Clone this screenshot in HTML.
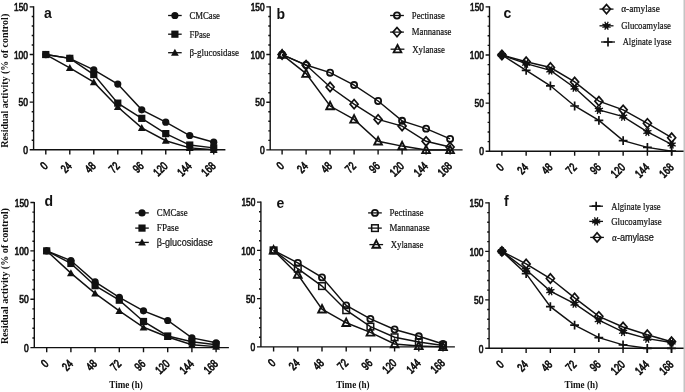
<!DOCTYPE html>
<html><head><meta charset="utf-8"><style>
html,body{margin:0;padding:0;background:#fff;}
body{width:685px;height:392px;overflow:hidden;font-family:"Liberation Sans", sans-serif;}
svg{display:block;will-change:transform;}
</style></head><body>
<svg width="685" height="392" viewBox="0 0 685 392">
<rect width="685" height="392" fill="#fff"/>
<path d="M33.60,6.30 V149.80 M29.70,149.80 H225.40" stroke="#111" stroke-width="1.4" fill="none"/>
<path d="M31.70,140.27 H33.60 M31.70,130.75 H33.60 M31.70,121.22 H33.60 M31.70,111.69 H33.60 M29.70,102.17 H33.60 M31.70,92.64 H33.60 M31.70,83.11 H33.60 M31.70,73.59 H33.60 M31.70,64.06 H33.60 M29.70,54.53 H33.60 M31.70,45.01 H33.60 M31.70,35.48 H33.60 M31.70,25.95 H33.60 M31.70,16.43 H33.60 M29.70,6.90 H33.60 M45.80,149.80 V154.40 M69.79,149.80 V154.40 M93.78,149.80 V154.40 M117.77,149.80 V154.40 M141.76,149.80 V154.40 M165.75,149.80 V154.40 M189.74,149.80 V154.40 M213.73,149.80 V154.40 " stroke="#111" stroke-width="1.4" fill="none"/>
<text x="28.00" y="11.10" text-anchor="end" font-family='"Liberation Sans", sans-serif' font-size="11" textLength="13.9" lengthAdjust="spacingAndGlyphs" fill="#111" stroke="#111" stroke-width="0.7">150</text>
<text x="28.00" y="58.73" text-anchor="end" font-family='"Liberation Sans", sans-serif' font-size="11" textLength="14.1" lengthAdjust="spacingAndGlyphs" fill="#111" stroke="#111" stroke-width="0.7">100</text>
<text x="28.00" y="106.37" text-anchor="end" font-family='"Liberation Sans", sans-serif' font-size="11" textLength="9.4" lengthAdjust="spacingAndGlyphs" fill="#111" stroke="#111" stroke-width="0.7">50</text>
<text x="28.00" y="154.00" text-anchor="end" font-family='"Liberation Sans", sans-serif' font-size="11" textLength="4.7" lengthAdjust="spacingAndGlyphs" fill="#111" stroke="#111" stroke-width="0.7">0</text>
<text x="48.50" y="166.70" text-anchor="end" transform="rotate(-45 48.50 166.70)" font-family='"Liberation Sans", sans-serif' font-size="11.6" textLength="5.0" lengthAdjust="spacingAndGlyphs" fill="#111" stroke="#111" stroke-width="0.75">0</text>
<text x="72.49" y="166.70" text-anchor="end" transform="rotate(-45 72.49 166.70)" font-family='"Liberation Sans", sans-serif' font-size="11.6" textLength="9.8" lengthAdjust="spacingAndGlyphs" fill="#111" stroke="#111" stroke-width="0.75">24</text>
<text x="96.48" y="166.70" text-anchor="end" transform="rotate(-45 96.48 166.70)" font-family='"Liberation Sans", sans-serif' font-size="11.6" textLength="9.8" lengthAdjust="spacingAndGlyphs" fill="#111" stroke="#111" stroke-width="0.75">48</text>
<text x="120.47" y="166.70" text-anchor="end" transform="rotate(-45 120.47 166.70)" font-family='"Liberation Sans", sans-serif' font-size="11.6" textLength="9.8" lengthAdjust="spacingAndGlyphs" fill="#111" stroke="#111" stroke-width="0.75">72</text>
<text x="144.46" y="166.70" text-anchor="end" transform="rotate(-45 144.46 166.70)" font-family='"Liberation Sans", sans-serif' font-size="11.6" textLength="9.8" lengthAdjust="spacingAndGlyphs" fill="#111" stroke="#111" stroke-width="0.75">96</text>
<text x="168.45" y="166.70" text-anchor="end" transform="rotate(-45 168.45 166.70)" font-family='"Liberation Sans", sans-serif' font-size="11.6" textLength="14.6" lengthAdjust="spacingAndGlyphs" fill="#111" stroke="#111" stroke-width="0.75">120</text>
<text x="192.44" y="166.70" text-anchor="end" transform="rotate(-45 192.44 166.70)" font-family='"Liberation Sans", sans-serif' font-size="11.6" textLength="14.6" lengthAdjust="spacingAndGlyphs" fill="#111" stroke="#111" stroke-width="0.75">144</text>
<text x="216.43" y="166.70" text-anchor="end" transform="rotate(-45 216.43 166.70)" font-family='"Liberation Sans", sans-serif' font-size="11.6" textLength="14.6" lengthAdjust="spacingAndGlyphs" fill="#111" stroke="#111" stroke-width="0.75">168</text>
<text x="44.00" y="17.60" font-family='"Liberation Sans", sans-serif' font-weight="bold" font-size="14" fill="#111">a</text>
<polyline points="45.80,54.53 69.79,58.34 93.78,69.78 117.77,84.07 141.76,109.79 165.75,122.17 189.74,135.51 213.73,142.18" fill="none" stroke="#111" stroke-width="1.45"/>
<polyline points="45.80,54.53 69.79,58.34 93.78,74.54 117.77,103.12 141.76,118.36 165.75,133.60 189.74,145.04 213.73,147.89" fill="none" stroke="#111" stroke-width="1.45"/>
<polyline points="45.80,54.53 69.79,67.87 93.78,82.16 117.77,106.93 141.76,127.89 165.75,140.75 189.74,147.89 213.73,149.80" fill="none" stroke="#111" stroke-width="1.45"/>
<circle cx="45.80" cy="54.53" r="3.60" fill="#111"/>
<circle cx="69.79" cy="58.34" r="3.60" fill="#111"/>
<circle cx="93.78" cy="69.78" r="3.60" fill="#111"/>
<circle cx="117.77" cy="84.07" r="3.60" fill="#111"/>
<circle cx="141.76" cy="109.79" r="3.60" fill="#111"/>
<circle cx="165.75" cy="122.17" r="3.60" fill="#111"/>
<circle cx="189.74" cy="135.51" r="3.60" fill="#111"/>
<circle cx="213.73" cy="142.18" r="3.60" fill="#111"/>
<rect x="42.20" y="50.93" width="7.20" height="7.20" fill="#111"/>
<rect x="66.19" y="54.74" width="7.20" height="7.20" fill="#111"/>
<rect x="90.18" y="70.94" width="7.20" height="7.20" fill="#111"/>
<rect x="114.17" y="99.52" width="7.20" height="7.20" fill="#111"/>
<rect x="138.16" y="114.76" width="7.20" height="7.20" fill="#111"/>
<rect x="162.15" y="130.00" width="7.20" height="7.20" fill="#111"/>
<rect x="186.14" y="141.44" width="7.20" height="7.20" fill="#111"/>
<rect x="210.13" y="144.29" width="7.20" height="7.20" fill="#111"/>
<path d="M45.80,50.63 L49.70,57.65 L41.90,57.65Z" fill="#111"/>
<path d="M69.79,63.97 L73.69,70.99 L65.89,70.99Z" fill="#111"/>
<path d="M93.78,78.26 L97.68,85.28 L89.88,85.28Z" fill="#111"/>
<path d="M117.77,103.03 L121.67,110.05 L113.87,110.05Z" fill="#111"/>
<path d="M141.76,123.99 L145.66,131.01 L137.86,131.01Z" fill="#111"/>
<path d="M165.75,136.85 L169.65,143.87 L161.85,143.87Z" fill="#111"/>
<path d="M189.74,143.99 L193.64,151.01 L185.84,151.01Z" fill="#111"/>
<path d="M213.73,145.90 L217.63,152.92 L209.83,152.92Z" fill="#111"/>
<path d="M168.10,15.50 H181.70" stroke="#111" stroke-width="1.3"/>
<circle cx="174.90" cy="15.50" r="3.60" fill="#111"/>
<text x="189.40" y="18.80" font-family='"Liberation Serif", serif' font-size="10" textLength="30.6" lengthAdjust="spacingAndGlyphs" fill="#111" stroke="#111" stroke-width="0.2">CMCase</text>
<path d="M168.10,34.20 H181.70" stroke="#111" stroke-width="1.3"/>
<rect x="171.30" y="30.60" width="7.20" height="7.20" fill="#111"/>
<text x="189.40" y="37.50" font-family='"Liberation Serif", serif' font-size="10" textLength="20.7" lengthAdjust="spacingAndGlyphs" fill="#111" stroke="#111" stroke-width="0.2">FPase</text>
<path d="M168.10,52.70 H181.70" stroke="#111" stroke-width="1.3"/>
<path d="M174.90,48.80 L178.80,55.82 L171.00,55.82Z" fill="#111"/>
<text x="189.40" y="56.00" font-family='"Liberation Serif", serif' font-size="10" textLength="49.5" lengthAdjust="spacingAndGlyphs" fill="#111" stroke="#111" stroke-width="0.2">β-glucosidase</text>
<text x="8.3" y="80.80" transform="rotate(-90 8.3 80.80)" text-anchor="middle" font-family='"Liberation Serif", serif' font-weight="bold" font-size="10" textLength="134" lengthAdjust="spacingAndGlyphs" fill="#111">Residual activity (% of control)</text>
<path d="M270.20,6.30 V149.90 M266.30,149.90 H462.60" stroke="#111" stroke-width="1.4" fill="none"/>
<path d="M268.30,140.37 H270.20 M268.30,130.83 H270.20 M268.30,121.30 H270.20 M268.30,111.77 H270.20 M266.30,102.23 H270.20 M268.30,92.70 H270.20 M268.30,83.17 H270.20 M268.30,73.63 H270.20 M268.30,64.10 H270.20 M266.30,54.57 H270.20 M268.30,45.03 H270.20 M268.30,35.50 H270.20 M268.30,25.97 H270.20 M268.30,16.43 H270.20 M266.30,6.90 H270.20 M282.10,149.90 V154.50 M306.10,149.90 V154.50 M330.10,149.90 V154.50 M354.10,149.90 V154.50 M378.10,149.90 V154.50 M402.10,149.90 V154.50 M426.10,149.90 V154.50 M450.10,149.90 V154.50 " stroke="#111" stroke-width="1.4" fill="none"/>
<text x="264.60" y="11.10" text-anchor="end" font-family='"Liberation Sans", sans-serif' font-size="11" textLength="13.9" lengthAdjust="spacingAndGlyphs" fill="#111" stroke="#111" stroke-width="0.7">150</text>
<text x="264.60" y="58.77" text-anchor="end" font-family='"Liberation Sans", sans-serif' font-size="11" textLength="14.1" lengthAdjust="spacingAndGlyphs" fill="#111" stroke="#111" stroke-width="0.7">100</text>
<text x="264.60" y="106.43" text-anchor="end" font-family='"Liberation Sans", sans-serif' font-size="11" textLength="9.4" lengthAdjust="spacingAndGlyphs" fill="#111" stroke="#111" stroke-width="0.7">50</text>
<text x="264.60" y="154.10" text-anchor="end" font-family='"Liberation Sans", sans-serif' font-size="11" textLength="4.7" lengthAdjust="spacingAndGlyphs" fill="#111" stroke="#111" stroke-width="0.7">0</text>
<text x="284.80" y="166.80" text-anchor="end" transform="rotate(-45 284.80 166.80)" font-family='"Liberation Sans", sans-serif' font-size="11.6" textLength="5.0" lengthAdjust="spacingAndGlyphs" fill="#111" stroke="#111" stroke-width="0.75">0</text>
<text x="308.80" y="166.80" text-anchor="end" transform="rotate(-45 308.80 166.80)" font-family='"Liberation Sans", sans-serif' font-size="11.6" textLength="9.8" lengthAdjust="spacingAndGlyphs" fill="#111" stroke="#111" stroke-width="0.75">24</text>
<text x="332.80" y="166.80" text-anchor="end" transform="rotate(-45 332.80 166.80)" font-family='"Liberation Sans", sans-serif' font-size="11.6" textLength="9.8" lengthAdjust="spacingAndGlyphs" fill="#111" stroke="#111" stroke-width="0.75">48</text>
<text x="356.80" y="166.80" text-anchor="end" transform="rotate(-45 356.80 166.80)" font-family='"Liberation Sans", sans-serif' font-size="11.6" textLength="9.8" lengthAdjust="spacingAndGlyphs" fill="#111" stroke="#111" stroke-width="0.75">72</text>
<text x="380.80" y="166.80" text-anchor="end" transform="rotate(-45 380.80 166.80)" font-family='"Liberation Sans", sans-serif' font-size="11.6" textLength="9.8" lengthAdjust="spacingAndGlyphs" fill="#111" stroke="#111" stroke-width="0.75">96</text>
<text x="404.80" y="166.80" text-anchor="end" transform="rotate(-45 404.80 166.80)" font-family='"Liberation Sans", sans-serif' font-size="11.6" textLength="14.6" lengthAdjust="spacingAndGlyphs" fill="#111" stroke="#111" stroke-width="0.75">120</text>
<text x="428.80" y="166.80" text-anchor="end" transform="rotate(-45 428.80 166.80)" font-family='"Liberation Sans", sans-serif' font-size="11.6" textLength="14.6" lengthAdjust="spacingAndGlyphs" fill="#111" stroke="#111" stroke-width="0.75">144</text>
<text x="452.80" y="166.80" text-anchor="end" transform="rotate(-45 452.80 166.80)" font-family='"Liberation Sans", sans-serif' font-size="11.6" textLength="14.6" lengthAdjust="spacingAndGlyphs" fill="#111" stroke="#111" stroke-width="0.75">168</text>
<text x="276.60" y="18.60" font-family='"Liberation Sans", sans-serif' font-weight="bold" font-size="14" fill="#111">b</text>
<polyline points="282.10,54.57 306.10,65.05 330.10,72.68 354.10,85.07 378.10,100.99 402.10,120.82 426.10,128.64 450.10,138.94" fill="none" stroke="#111" stroke-width="1.45"/>
<polyline points="282.10,54.57 306.10,65.05 330.10,86.98 354.10,104.14 378.10,119.39 402.10,126.07 426.10,141.32 450.10,147.04" fill="none" stroke="#111" stroke-width="1.45"/>
<polyline points="282.10,54.57 306.10,73.63 330.10,106.05 354.10,119.39 378.10,141.32 402.10,146.09 426.10,149.90 450.10,149.90" fill="none" stroke="#111" stroke-width="1.45"/>
<circle cx="282.10" cy="54.57" r="3.05" fill="none" stroke="#111" stroke-width="1.8"/>
<circle cx="306.10" cy="65.05" r="3.05" fill="none" stroke="#111" stroke-width="1.8"/>
<circle cx="330.10" cy="72.68" r="3.05" fill="none" stroke="#111" stroke-width="1.8"/>
<circle cx="354.10" cy="85.07" r="3.05" fill="none" stroke="#111" stroke-width="1.8"/>
<circle cx="378.10" cy="100.99" r="3.05" fill="none" stroke="#111" stroke-width="1.8"/>
<circle cx="402.10" cy="120.82" r="3.05" fill="none" stroke="#111" stroke-width="1.8"/>
<circle cx="426.10" cy="128.64" r="3.05" fill="none" stroke="#111" stroke-width="1.8"/>
<circle cx="450.10" cy="138.94" r="3.05" fill="none" stroke="#111" stroke-width="1.8"/>
<path d="M282.10,49.97 L286.10,54.57 L282.10,59.17 L278.10,54.57Z" fill="none" stroke="#111" stroke-width="1.7"/>
<path d="M306.10,60.45 L310.10,65.05 L306.10,69.65 L302.10,65.05Z" fill="none" stroke="#111" stroke-width="1.7"/>
<path d="M330.10,82.38 L334.10,86.98 L330.10,91.58 L326.10,86.98Z" fill="none" stroke="#111" stroke-width="1.7"/>
<path d="M354.10,99.54 L358.10,104.14 L354.10,108.74 L350.10,104.14Z" fill="none" stroke="#111" stroke-width="1.7"/>
<path d="M378.10,114.79 L382.10,119.39 L378.10,123.99 L374.10,119.39Z" fill="none" stroke="#111" stroke-width="1.7"/>
<path d="M402.10,121.47 L406.10,126.07 L402.10,130.67 L398.10,126.07Z" fill="none" stroke="#111" stroke-width="1.7"/>
<path d="M426.10,136.72 L430.10,141.32 L426.10,145.92 L422.10,141.32Z" fill="none" stroke="#111" stroke-width="1.7"/>
<path d="M450.10,142.44 L454.10,147.04 L450.10,151.64 L446.10,147.04Z" fill="none" stroke="#111" stroke-width="1.7"/>
<path d="M282.10,50.37 L285.90,57.77 L278.30,57.77Z" fill="none" stroke="#111" stroke-width="1.9" stroke-linejoin="miter"/>
<path d="M306.10,69.43 L309.90,76.83 L302.30,76.83Z" fill="none" stroke="#111" stroke-width="1.9" stroke-linejoin="miter"/>
<path d="M330.10,101.85 L333.90,109.25 L326.30,109.25Z" fill="none" stroke="#111" stroke-width="1.9" stroke-linejoin="miter"/>
<path d="M354.10,115.19 L357.90,122.59 L350.30,122.59Z" fill="none" stroke="#111" stroke-width="1.9" stroke-linejoin="miter"/>
<path d="M378.10,137.12 L381.90,144.52 L374.30,144.52Z" fill="none" stroke="#111" stroke-width="1.9" stroke-linejoin="miter"/>
<path d="M402.10,141.89 L405.90,149.29 L398.30,149.29Z" fill="none" stroke="#111" stroke-width="1.9" stroke-linejoin="miter"/>
<path d="M426.10,145.70 L429.90,153.10 L422.30,153.10Z" fill="none" stroke="#111" stroke-width="1.9" stroke-linejoin="miter"/>
<path d="M450.10,145.70 L453.90,153.10 L446.30,153.10Z" fill="none" stroke="#111" stroke-width="1.9" stroke-linejoin="miter"/>
<path d="M390.10,15.50 H403.90" stroke="#111" stroke-width="1.3"/>
<circle cx="397.00" cy="15.50" r="3.05" fill="none" stroke="#111" stroke-width="1.8"/>
<text x="411.80" y="18.80" font-family='"Liberation Serif", serif' font-size="10" textLength="33.0" lengthAdjust="spacingAndGlyphs" fill="#111" stroke="#111" stroke-width="0.2">Pectinase</text>
<path d="M390.10,32.10 H403.90" stroke="#111" stroke-width="1.3"/>
<path d="M397.00,27.50 L401.00,32.10 L397.00,36.70 L393.00,32.10Z" fill="none" stroke="#111" stroke-width="1.7"/>
<text x="411.80" y="35.40" font-family='"Liberation Serif", serif' font-size="10" textLength="39.6" lengthAdjust="spacingAndGlyphs" fill="#111" stroke="#111" stroke-width="0.2">Mannanase</text>
<path d="M390.60,49.20 H404.40" stroke="#111" stroke-width="1.3"/>
<path d="M397.50,45.00 L401.30,52.40 L393.70,52.40Z" fill="none" stroke="#111" stroke-width="1.9" stroke-linejoin="miter"/>
<text x="412.30" y="52.50" font-family='"Liberation Serif", serif' font-size="10" textLength="32.6" lengthAdjust="spacingAndGlyphs" fill="#111" stroke="#111" stroke-width="0.2">Xylanase</text>
<path d="M489.50,6.30 V151.20 M485.60,151.20 H684.00" stroke="#111" stroke-width="1.4" fill="none"/>
<path d="M487.60,141.58 H489.50 M487.60,131.96 H489.50 M487.60,122.34 H489.50 M487.60,112.72 H489.50 M485.60,103.10 H489.50 M487.60,93.48 H489.50 M487.60,83.86 H489.50 M487.60,74.24 H489.50 M487.60,64.62 H489.50 M485.60,55.00 H489.50 M487.60,45.38 H489.50 M487.60,35.76 H489.50 M487.60,26.14 H489.50 M487.60,16.52 H489.50 M485.60,6.90 H489.50 M501.90,151.20 V155.80 M526.15,151.20 V155.80 M550.40,151.20 V155.80 M574.65,151.20 V155.80 M598.90,151.20 V155.80 M623.15,151.20 V155.80 M647.40,151.20 V155.80 M671.65,151.20 V155.80 " stroke="#111" stroke-width="1.4" fill="none"/>
<text x="483.90" y="11.10" text-anchor="end" font-family='"Liberation Sans", sans-serif' font-size="11" textLength="13.9" lengthAdjust="spacingAndGlyphs" fill="#111" stroke="#111" stroke-width="0.7">150</text>
<text x="483.90" y="59.20" text-anchor="end" font-family='"Liberation Sans", sans-serif' font-size="11" textLength="14.1" lengthAdjust="spacingAndGlyphs" fill="#111" stroke="#111" stroke-width="0.7">100</text>
<text x="483.90" y="107.30" text-anchor="end" font-family='"Liberation Sans", sans-serif' font-size="11" textLength="9.4" lengthAdjust="spacingAndGlyphs" fill="#111" stroke="#111" stroke-width="0.7">50</text>
<text x="483.90" y="155.40" text-anchor="end" font-family='"Liberation Sans", sans-serif' font-size="11" textLength="4.7" lengthAdjust="spacingAndGlyphs" fill="#111" stroke="#111" stroke-width="0.7">0</text>
<text x="504.60" y="168.10" text-anchor="end" transform="rotate(-45 504.60 168.10)" font-family='"Liberation Sans", sans-serif' font-size="11.6" textLength="5.0" lengthAdjust="spacingAndGlyphs" fill="#111" stroke="#111" stroke-width="0.75">0</text>
<text x="528.85" y="168.10" text-anchor="end" transform="rotate(-45 528.85 168.10)" font-family='"Liberation Sans", sans-serif' font-size="11.6" textLength="9.8" lengthAdjust="spacingAndGlyphs" fill="#111" stroke="#111" stroke-width="0.75">24</text>
<text x="553.10" y="168.10" text-anchor="end" transform="rotate(-45 553.10 168.10)" font-family='"Liberation Sans", sans-serif' font-size="11.6" textLength="9.8" lengthAdjust="spacingAndGlyphs" fill="#111" stroke="#111" stroke-width="0.75">48</text>
<text x="577.35" y="168.10" text-anchor="end" transform="rotate(-45 577.35 168.10)" font-family='"Liberation Sans", sans-serif' font-size="11.6" textLength="9.8" lengthAdjust="spacingAndGlyphs" fill="#111" stroke="#111" stroke-width="0.75">72</text>
<text x="601.60" y="168.10" text-anchor="end" transform="rotate(-45 601.60 168.10)" font-family='"Liberation Sans", sans-serif' font-size="11.6" textLength="9.8" lengthAdjust="spacingAndGlyphs" fill="#111" stroke="#111" stroke-width="0.75">96</text>
<text x="625.85" y="168.10" text-anchor="end" transform="rotate(-45 625.85 168.10)" font-family='"Liberation Sans", sans-serif' font-size="11.6" textLength="14.6" lengthAdjust="spacingAndGlyphs" fill="#111" stroke="#111" stroke-width="0.75">120</text>
<text x="650.10" y="168.10" text-anchor="end" transform="rotate(-45 650.10 168.10)" font-family='"Liberation Sans", sans-serif' font-size="11.6" textLength="14.6" lengthAdjust="spacingAndGlyphs" fill="#111" stroke="#111" stroke-width="0.75">144</text>
<text x="674.35" y="168.10" text-anchor="end" transform="rotate(-45 674.35 168.10)" font-family='"Liberation Sans", sans-serif' font-size="11.6" textLength="14.6" lengthAdjust="spacingAndGlyphs" fill="#111" stroke="#111" stroke-width="0.75">168</text>
<text x="503.60" y="17.50" font-family='"Liberation Sans", sans-serif' font-weight="bold" font-size="14" fill="#111">c</text>
<polyline points="501.90,55.00 526.15,61.73 550.40,67.51 574.65,81.94 598.90,101.18 623.15,109.83 647.40,123.30 671.65,137.73" fill="none" stroke="#111" stroke-width="1.45"/>
<polyline points="501.90,55.00 526.15,63.66 550.40,70.39 574.65,87.71 598.90,109.83 623.15,116.57 647.40,131.96 671.65,144.47" fill="none" stroke="#111" stroke-width="1.45"/>
<polyline points="501.90,55.00 526.15,70.39 550.40,85.78 574.65,105.99 598.90,120.42 623.15,140.62 647.40,147.35 671.65,151.20" fill="none" stroke="#111" stroke-width="1.45"/>
<path d="M501.90,50.40 L505.90,55.00 L501.90,59.60 L497.90,55.00Z" fill="none" stroke="#111" stroke-width="1.7"/>
<path d="M526.15,57.13 L530.15,61.73 L526.15,66.33 L522.15,61.73Z" fill="none" stroke="#111" stroke-width="1.7"/>
<path d="M550.40,62.91 L554.40,67.51 L550.40,72.11 L546.40,67.51Z" fill="none" stroke="#111" stroke-width="1.7"/>
<path d="M574.65,77.34 L578.65,81.94 L574.65,86.54 L570.65,81.94Z" fill="none" stroke="#111" stroke-width="1.7"/>
<path d="M598.90,96.58 L602.90,101.18 L598.90,105.78 L594.90,101.18Z" fill="none" stroke="#111" stroke-width="1.7"/>
<path d="M623.15,105.23 L627.15,109.83 L623.15,114.43 L619.15,109.83Z" fill="none" stroke="#111" stroke-width="1.7"/>
<path d="M647.40,118.70 L651.40,123.30 L647.40,127.90 L643.40,123.30Z" fill="none" stroke="#111" stroke-width="1.7"/>
<path d="M671.65,133.13 L675.65,137.73 L671.65,142.33 L667.65,137.73Z" fill="none" stroke="#111" stroke-width="1.7"/>
<path d="M501.90,55.00 L505.97,56.68 M501.90,55.00 L503.58,59.07 M501.90,55.00 L500.22,59.07 M501.90,55.00 L497.83,56.68 M501.90,55.00 L497.83,53.32 M501.90,55.00 L500.22,50.93 M501.90,55.00 L503.58,50.93 M501.90,55.00 L505.97,53.32 " stroke="#111" stroke-width="1.3"/><circle cx="501.90" cy="55.00" r="2.60" fill="#111"/>
<path d="M526.15,63.66 L530.22,65.34 M526.15,63.66 L527.83,67.72 M526.15,63.66 L524.47,67.72 M526.15,63.66 L522.08,65.34 M526.15,63.66 L522.08,61.97 M526.15,63.66 L524.47,59.59 M526.15,63.66 L527.83,59.59 M526.15,63.66 L530.22,61.97 " stroke="#111" stroke-width="1.3"/><circle cx="526.15" cy="63.66" r="2.60" fill="#111"/>
<path d="M550.40,70.39 L554.47,72.08 M550.40,70.39 L552.08,74.46 M550.40,70.39 L548.72,74.46 M550.40,70.39 L546.33,72.08 M550.40,70.39 L546.33,68.71 M550.40,70.39 L548.72,66.33 M550.40,70.39 L552.08,66.33 M550.40,70.39 L554.47,68.71 " stroke="#111" stroke-width="1.3"/><circle cx="550.40" cy="70.39" r="2.60" fill="#111"/>
<path d="M574.65,87.71 L578.72,89.39 M574.65,87.71 L576.33,91.77 M574.65,87.71 L572.97,91.77 M574.65,87.71 L570.58,89.39 M574.65,87.71 L570.58,86.02 M574.65,87.71 L572.97,83.64 M574.65,87.71 L576.33,83.64 M574.65,87.71 L578.72,86.02 " stroke="#111" stroke-width="1.3"/><circle cx="574.65" cy="87.71" r="2.60" fill="#111"/>
<path d="M598.90,109.83 L602.97,111.52 M598.90,109.83 L600.58,113.90 M598.90,109.83 L597.22,113.90 M598.90,109.83 L594.83,111.52 M598.90,109.83 L594.83,108.15 M598.90,109.83 L597.22,105.77 M598.90,109.83 L600.58,105.77 M598.90,109.83 L602.97,108.15 " stroke="#111" stroke-width="1.3"/><circle cx="598.90" cy="109.83" r="2.60" fill="#111"/>
<path d="M623.15,116.57 L627.22,118.25 M623.15,116.57 L624.83,120.63 M623.15,116.57 L621.47,120.63 M623.15,116.57 L619.08,118.25 M623.15,116.57 L619.08,114.88 M623.15,116.57 L621.47,112.50 M623.15,116.57 L624.83,112.50 M623.15,116.57 L627.22,114.88 " stroke="#111" stroke-width="1.3"/><circle cx="623.15" cy="116.57" r="2.60" fill="#111"/>
<path d="M647.40,131.96 L651.47,133.64 M647.40,131.96 L649.08,136.03 M647.40,131.96 L645.72,136.03 M647.40,131.96 L643.33,133.64 M647.40,131.96 L643.33,130.28 M647.40,131.96 L645.72,127.89 M647.40,131.96 L649.08,127.89 M647.40,131.96 L651.47,130.28 " stroke="#111" stroke-width="1.3"/><circle cx="647.40" cy="131.96" r="2.60" fill="#111"/>
<path d="M671.65,144.47 L675.72,146.15 M671.65,144.47 L673.33,148.53 M671.65,144.47 L669.97,148.53 M671.65,144.47 L667.58,146.15 M671.65,144.47 L667.58,142.78 M671.65,144.47 L669.97,140.40 M671.65,144.47 L673.33,140.40 M671.65,144.47 L675.72,142.78 " stroke="#111" stroke-width="1.3"/><circle cx="671.65" cy="144.47" r="2.60" fill="#111"/>
<path d="M497.50,55.00 H506.30 M501.90,50.60 V59.40" stroke="#111" stroke-width="1.7"/>
<path d="M521.75,70.39 H530.55 M526.15,65.99 V74.79" stroke="#111" stroke-width="1.7"/>
<path d="M546.00,85.78 H554.80 M550.40,81.38 V90.18" stroke="#111" stroke-width="1.7"/>
<path d="M570.25,105.99 H579.05 M574.65,101.59 V110.39" stroke="#111" stroke-width="1.7"/>
<path d="M594.50,120.42 H603.30 M598.90,116.02 V124.82" stroke="#111" stroke-width="1.7"/>
<path d="M618.75,140.62 H627.55 M623.15,136.22 V145.02" stroke="#111" stroke-width="1.7"/>
<path d="M643.00,147.35 H651.80 M647.40,142.95 V151.75" stroke="#111" stroke-width="1.7"/>
<path d="M667.25,151.20 H676.05 M671.65,146.80 V155.60" stroke="#111" stroke-width="1.7"/>
<path d="M599.50,9.10 H613.50" stroke="#111" stroke-width="1.3"/>
<path d="M606.50,4.50 L610.50,9.10 L606.50,13.70 L602.50,9.10Z" fill="none" stroke="#111" stroke-width="1.7"/>
<text x="621.20" y="12.40" font-family='"Liberation Serif", serif' font-size="10" textLength="38.6" lengthAdjust="spacingAndGlyphs" fill="#111" stroke="#111" stroke-width="0.2">α-amylase</text>
<path d="M599.50,25.80 H613.50" stroke="#111" stroke-width="1.3"/>
<path d="M606.50,25.80 L610.57,27.48 M606.50,25.80 L608.18,29.87 M606.50,25.80 L604.82,29.87 M606.50,25.80 L602.43,27.48 M606.50,25.80 L602.43,24.12 M606.50,25.80 L604.82,21.73 M606.50,25.80 L608.18,21.73 M606.50,25.80 L610.57,24.12 " stroke="#111" stroke-width="1.3"/><circle cx="606.50" cy="25.80" r="2.60" fill="#111"/>
<text x="621.20" y="29.10" font-family='"Liberation Serif", serif' font-size="10" textLength="49.7" lengthAdjust="spacingAndGlyphs" fill="#111" stroke="#111" stroke-width="0.2">Glucoamylase</text>
<path d="M601.00,42.00 H615.00" stroke="#111" stroke-width="1.3"/>
<path d="M603.60,42.00 H612.40 M608.00,37.60 V46.40" stroke="#111" stroke-width="1.7"/>
<text x="622.70" y="45.30" font-family='"Liberation Serif", serif' font-size="10" textLength="48.8" lengthAdjust="spacingAndGlyphs" fill="#111" stroke="#111" stroke-width="0.2">Alginate lyase</text>
<path d="M34.30,201.90 V347.60 M30.40,347.60 H228.90" stroke="#111" stroke-width="1.4" fill="none"/>
<path d="M32.40,337.93 H34.30 M32.40,328.25 H34.30 M32.40,318.58 H34.30 M32.40,308.91 H34.30 M30.40,299.23 H34.30 M32.40,289.56 H34.30 M32.40,279.89 H34.30 M32.40,270.21 H34.30 M32.40,260.54 H34.30 M30.40,250.87 H34.30 M32.40,241.19 H34.30 M32.40,231.52 H34.30 M32.40,221.85 H34.30 M32.40,212.17 H34.30 M30.40,202.50 H34.30 M46.70,347.60 V352.20 M70.90,347.60 V352.20 M95.10,347.60 V352.20 M119.30,347.60 V352.20 M143.50,347.60 V352.20 M167.70,347.60 V352.20 M191.90,347.60 V352.20 M216.10,347.60 V352.20 " stroke="#111" stroke-width="1.4" fill="none"/>
<text x="28.70" y="206.70" text-anchor="end" font-family='"Liberation Sans", sans-serif' font-size="11" textLength="13.9" lengthAdjust="spacingAndGlyphs" fill="#111" stroke="#111" stroke-width="0.7">150</text>
<text x="28.70" y="255.07" text-anchor="end" font-family='"Liberation Sans", sans-serif' font-size="11" textLength="14.1" lengthAdjust="spacingAndGlyphs" fill="#111" stroke="#111" stroke-width="0.7">100</text>
<text x="28.70" y="303.43" text-anchor="end" font-family='"Liberation Sans", sans-serif' font-size="11" textLength="9.4" lengthAdjust="spacingAndGlyphs" fill="#111" stroke="#111" stroke-width="0.7">50</text>
<text x="28.70" y="351.80" text-anchor="end" font-family='"Liberation Sans", sans-serif' font-size="11" textLength="4.7" lengthAdjust="spacingAndGlyphs" fill="#111" stroke="#111" stroke-width="0.7">0</text>
<text x="49.40" y="364.50" text-anchor="end" transform="rotate(-45 49.40 364.50)" font-family='"Liberation Sans", sans-serif' font-size="11.6" textLength="5.0" lengthAdjust="spacingAndGlyphs" fill="#111" stroke="#111" stroke-width="0.75">0</text>
<text x="73.60" y="364.50" text-anchor="end" transform="rotate(-45 73.60 364.50)" font-family='"Liberation Sans", sans-serif' font-size="11.6" textLength="9.8" lengthAdjust="spacingAndGlyphs" fill="#111" stroke="#111" stroke-width="0.75">24</text>
<text x="97.80" y="364.50" text-anchor="end" transform="rotate(-45 97.80 364.50)" font-family='"Liberation Sans", sans-serif' font-size="11.6" textLength="9.8" lengthAdjust="spacingAndGlyphs" fill="#111" stroke="#111" stroke-width="0.75">48</text>
<text x="122.00" y="364.50" text-anchor="end" transform="rotate(-45 122.00 364.50)" font-family='"Liberation Sans", sans-serif' font-size="11.6" textLength="9.8" lengthAdjust="spacingAndGlyphs" fill="#111" stroke="#111" stroke-width="0.75">72</text>
<text x="146.20" y="364.50" text-anchor="end" transform="rotate(-45 146.20 364.50)" font-family='"Liberation Sans", sans-serif' font-size="11.6" textLength="9.8" lengthAdjust="spacingAndGlyphs" fill="#111" stroke="#111" stroke-width="0.75">96</text>
<text x="170.40" y="364.50" text-anchor="end" transform="rotate(-45 170.40 364.50)" font-family='"Liberation Sans", sans-serif' font-size="11.6" textLength="14.6" lengthAdjust="spacingAndGlyphs" fill="#111" stroke="#111" stroke-width="0.75">120</text>
<text x="194.60" y="364.50" text-anchor="end" transform="rotate(-45 194.60 364.50)" font-family='"Liberation Sans", sans-serif' font-size="11.6" textLength="14.6" lengthAdjust="spacingAndGlyphs" fill="#111" stroke="#111" stroke-width="0.75">144</text>
<text x="218.80" y="364.50" text-anchor="end" transform="rotate(-45 218.80 364.50)" font-family='"Liberation Sans", sans-serif' font-size="11.6" textLength="14.6" lengthAdjust="spacingAndGlyphs" fill="#111" stroke="#111" stroke-width="0.75">168</text>
<text x="44.60" y="206.00" font-family='"Liberation Sans", sans-serif' font-weight="bold" font-size="14" fill="#111">d</text>
<polyline points="46.70,250.87 70.90,260.54 95.10,281.82 119.30,297.30 143.50,310.84 167.70,320.51 191.90,337.93 216.10,342.76" fill="none" stroke="#111" stroke-width="1.45"/>
<polyline points="46.70,250.87 70.90,263.44 95.10,285.69 119.30,300.20 143.50,321.48 167.70,335.99 191.90,341.80 216.10,344.70" fill="none" stroke="#111" stroke-width="1.45"/>
<polyline points="46.70,250.87 70.90,273.12 95.10,293.43 119.30,310.84 143.50,327.29 167.70,336.96 191.90,344.70 216.10,346.63" fill="none" stroke="#111" stroke-width="1.45"/>
<circle cx="46.70" cy="250.87" r="3.60" fill="#111"/>
<circle cx="70.90" cy="260.54" r="3.60" fill="#111"/>
<circle cx="95.10" cy="281.82" r="3.60" fill="#111"/>
<circle cx="119.30" cy="297.30" r="3.60" fill="#111"/>
<circle cx="143.50" cy="310.84" r="3.60" fill="#111"/>
<circle cx="167.70" cy="320.51" r="3.60" fill="#111"/>
<circle cx="191.90" cy="337.93" r="3.60" fill="#111"/>
<circle cx="216.10" cy="342.76" r="3.60" fill="#111"/>
<rect x="43.10" y="247.27" width="7.20" height="7.20" fill="#111"/>
<rect x="67.30" y="259.84" width="7.20" height="7.20" fill="#111"/>
<rect x="91.50" y="282.09" width="7.20" height="7.20" fill="#111"/>
<rect x="115.70" y="296.60" width="7.20" height="7.20" fill="#111"/>
<rect x="139.90" y="317.88" width="7.20" height="7.20" fill="#111"/>
<rect x="164.10" y="332.39" width="7.20" height="7.20" fill="#111"/>
<rect x="188.30" y="338.20" width="7.20" height="7.20" fill="#111"/>
<rect x="212.50" y="341.10" width="7.20" height="7.20" fill="#111"/>
<path d="M46.70,246.97 L50.60,253.99 L42.80,253.99Z" fill="#111"/>
<path d="M70.90,269.22 L74.80,276.24 L67.00,276.24Z" fill="#111"/>
<path d="M95.10,289.53 L99.00,296.55 L91.20,296.55Z" fill="#111"/>
<path d="M119.30,306.94 L123.20,313.96 L115.40,313.96Z" fill="#111"/>
<path d="M143.50,323.39 L147.40,330.41 L139.60,330.41Z" fill="#111"/>
<path d="M167.70,333.06 L171.60,340.08 L163.80,340.08Z" fill="#111"/>
<path d="M191.90,340.80 L195.80,347.82 L188.00,347.82Z" fill="#111"/>
<path d="M216.10,342.73 L220.00,349.75 L212.20,349.75Z" fill="#111"/>
<path d="M135.20,212.90 H148.80" stroke="#111" stroke-width="1.3"/>
<circle cx="142.00" cy="212.90" r="3.60" fill="#111"/>
<text x="156.80" y="216.20" font-family='"Liberation Serif", serif' font-size="10" textLength="30.8" lengthAdjust="spacingAndGlyphs" fill="#111" stroke="#111" stroke-width="0.2">CMCase</text>
<path d="M135.20,228.10 H148.80" stroke="#111" stroke-width="1.3"/>
<rect x="138.40" y="224.50" width="7.20" height="7.20" fill="#111"/>
<text x="156.80" y="231.40" font-family='"Liberation Serif", serif' font-size="10" textLength="22.0" lengthAdjust="spacingAndGlyphs" fill="#111" stroke="#111" stroke-width="0.2">FPase</text>
<path d="M135.20,242.40 H148.80" stroke="#111" stroke-width="1.3"/>
<path d="M142.00,238.50 L145.90,245.52 L138.10,245.52Z" fill="#111"/>
<text x="156.80" y="245.70" font-family='"Liberation Sans", sans-serif' font-size="10" textLength="56.1" lengthAdjust="spacingAndGlyphs" fill="#111" stroke="#111" stroke-width="0.2">β-glucosidase</text>
<text x="8.3" y="276.10" transform="rotate(-90 8.3 276.10)" text-anchor="middle" font-family='"Liberation Serif", serif' font-weight="bold" font-size="10" textLength="136" lengthAdjust="spacingAndGlyphs" fill="#111">Residual activity (% of control)</text>
<text x="126.00" y="387.8" text-anchor="middle" font-family='"Liberation Serif", serif' font-weight="bold" font-size="10.2" textLength="33.5" lengthAdjust="spacingAndGlyphs" fill="#111">Time (h)</text>
<path d="M260.90,201.50 V346.90 M257.00,346.90 H454.90" stroke="#111" stroke-width="1.4" fill="none"/>
<path d="M259.00,337.25 H260.90 M259.00,327.59 H260.90 M259.00,317.94 H260.90 M259.00,308.29 H260.90 M257.00,298.63 H260.90 M259.00,288.98 H260.90 M259.00,279.33 H260.90 M259.00,269.67 H260.90 M259.00,260.02 H260.90 M257.00,250.37 H260.90 M259.00,240.71 H260.90 M259.00,231.06 H260.90 M259.00,221.41 H260.90 M259.00,211.75 H260.90 M257.00,202.10 H260.90 M273.60,346.90 V351.50 M297.80,346.90 V351.50 M322.00,346.90 V351.50 M346.20,346.90 V351.50 M370.40,346.90 V351.50 M394.60,346.90 V351.50 M418.80,346.90 V351.50 M443.00,346.90 V351.50 " stroke="#111" stroke-width="1.4" fill="none"/>
<text x="255.30" y="206.30" text-anchor="end" font-family='"Liberation Sans", sans-serif' font-size="11" textLength="13.9" lengthAdjust="spacingAndGlyphs" fill="#111" stroke="#111" stroke-width="0.7">150</text>
<text x="255.30" y="254.57" text-anchor="end" font-family='"Liberation Sans", sans-serif' font-size="11" textLength="14.1" lengthAdjust="spacingAndGlyphs" fill="#111" stroke="#111" stroke-width="0.7">100</text>
<text x="255.30" y="302.83" text-anchor="end" font-family='"Liberation Sans", sans-serif' font-size="11" textLength="9.4" lengthAdjust="spacingAndGlyphs" fill="#111" stroke="#111" stroke-width="0.7">50</text>
<text x="255.30" y="351.10" text-anchor="end" font-family='"Liberation Sans", sans-serif' font-size="11" textLength="4.7" lengthAdjust="spacingAndGlyphs" fill="#111" stroke="#111" stroke-width="0.7">0</text>
<text x="276.30" y="363.80" text-anchor="end" transform="rotate(-45 276.30 363.80)" font-family='"Liberation Sans", sans-serif' font-size="11.6" textLength="5.0" lengthAdjust="spacingAndGlyphs" fill="#111" stroke="#111" stroke-width="0.75">0</text>
<text x="300.50" y="363.80" text-anchor="end" transform="rotate(-45 300.50 363.80)" font-family='"Liberation Sans", sans-serif' font-size="11.6" textLength="9.8" lengthAdjust="spacingAndGlyphs" fill="#111" stroke="#111" stroke-width="0.75">24</text>
<text x="324.70" y="363.80" text-anchor="end" transform="rotate(-45 324.70 363.80)" font-family='"Liberation Sans", sans-serif' font-size="11.6" textLength="9.8" lengthAdjust="spacingAndGlyphs" fill="#111" stroke="#111" stroke-width="0.75">48</text>
<text x="348.90" y="363.80" text-anchor="end" transform="rotate(-45 348.90 363.80)" font-family='"Liberation Sans", sans-serif' font-size="11.6" textLength="9.8" lengthAdjust="spacingAndGlyphs" fill="#111" stroke="#111" stroke-width="0.75">72</text>
<text x="373.10" y="363.80" text-anchor="end" transform="rotate(-45 373.10 363.80)" font-family='"Liberation Sans", sans-serif' font-size="11.6" textLength="9.8" lengthAdjust="spacingAndGlyphs" fill="#111" stroke="#111" stroke-width="0.75">96</text>
<text x="397.30" y="363.80" text-anchor="end" transform="rotate(-45 397.30 363.80)" font-family='"Liberation Sans", sans-serif' font-size="11.6" textLength="14.6" lengthAdjust="spacingAndGlyphs" fill="#111" stroke="#111" stroke-width="0.75">120</text>
<text x="421.50" y="363.80" text-anchor="end" transform="rotate(-45 421.50 363.80)" font-family='"Liberation Sans", sans-serif' font-size="11.6" textLength="14.6" lengthAdjust="spacingAndGlyphs" fill="#111" stroke="#111" stroke-width="0.75">144</text>
<text x="445.70" y="363.80" text-anchor="end" transform="rotate(-45 445.70 363.80)" font-family='"Liberation Sans", sans-serif' font-size="11.6" textLength="14.6" lengthAdjust="spacingAndGlyphs" fill="#111" stroke="#111" stroke-width="0.75">168</text>
<text x="276.60" y="207.50" font-family='"Liberation Sans", sans-serif' font-weight="bold" font-size="14" fill="#111">e</text>
<polyline points="273.60,250.37 297.80,262.92 322.00,277.40 346.20,305.39 370.40,318.91 394.60,329.52 418.80,336.28 443.00,344.00" fill="none" stroke="#111" stroke-width="1.45"/>
<polyline points="273.60,250.37 297.80,268.71 322.00,286.08 346.20,310.22 370.40,326.63 394.60,337.25 418.80,342.07 443.00,345.45" fill="none" stroke="#111" stroke-width="1.45"/>
<polyline points="273.60,250.37 297.80,274.50 322.00,309.25 346.20,322.77 370.40,332.42 394.60,344.00 418.80,345.93 443.00,346.90" fill="none" stroke="#111" stroke-width="1.45"/>
<circle cx="273.60" cy="250.37" r="3.05" fill="none" stroke="#111" stroke-width="1.8"/>
<circle cx="297.80" cy="262.92" r="3.05" fill="none" stroke="#111" stroke-width="1.8"/>
<circle cx="322.00" cy="277.40" r="3.05" fill="none" stroke="#111" stroke-width="1.8"/>
<circle cx="346.20" cy="305.39" r="3.05" fill="none" stroke="#111" stroke-width="1.8"/>
<circle cx="370.40" cy="318.91" r="3.05" fill="none" stroke="#111" stroke-width="1.8"/>
<circle cx="394.60" cy="329.52" r="3.05" fill="none" stroke="#111" stroke-width="1.8"/>
<circle cx="418.80" cy="336.28" r="3.05" fill="none" stroke="#111" stroke-width="1.8"/>
<circle cx="443.00" cy="344.00" r="3.05" fill="none" stroke="#111" stroke-width="1.8"/>
<rect x="270.30" y="247.07" width="6.60" height="6.60" fill="none" stroke="#111" stroke-width="1.5"/>
<rect x="294.50" y="265.41" width="6.60" height="6.60" fill="none" stroke="#111" stroke-width="1.5"/>
<rect x="318.70" y="282.78" width="6.60" height="6.60" fill="none" stroke="#111" stroke-width="1.5"/>
<rect x="342.90" y="306.92" width="6.60" height="6.60" fill="none" stroke="#111" stroke-width="1.5"/>
<rect x="367.10" y="323.33" width="6.60" height="6.60" fill="none" stroke="#111" stroke-width="1.5"/>
<rect x="391.30" y="333.95" width="6.60" height="6.60" fill="none" stroke="#111" stroke-width="1.5"/>
<rect x="415.50" y="338.77" width="6.60" height="6.60" fill="none" stroke="#111" stroke-width="1.5"/>
<rect x="439.70" y="342.15" width="6.60" height="6.60" fill="none" stroke="#111" stroke-width="1.5"/>
<path d="M273.60,246.17 L277.40,253.57 L269.80,253.57Z" fill="none" stroke="#111" stroke-width="1.9" stroke-linejoin="miter"/>
<path d="M297.80,270.30 L301.60,277.70 L294.00,277.70Z" fill="none" stroke="#111" stroke-width="1.9" stroke-linejoin="miter"/>
<path d="M322.00,305.05 L325.80,312.45 L318.20,312.45Z" fill="none" stroke="#111" stroke-width="1.9" stroke-linejoin="miter"/>
<path d="M346.20,318.57 L350.00,325.97 L342.40,325.97Z" fill="none" stroke="#111" stroke-width="1.9" stroke-linejoin="miter"/>
<path d="M370.40,328.22 L374.20,335.62 L366.60,335.62Z" fill="none" stroke="#111" stroke-width="1.9" stroke-linejoin="miter"/>
<path d="M394.60,339.80 L398.40,347.20 L390.80,347.20Z" fill="none" stroke="#111" stroke-width="1.9" stroke-linejoin="miter"/>
<path d="M418.80,341.73 L422.60,349.13 L415.00,349.13Z" fill="none" stroke="#111" stroke-width="1.9" stroke-linejoin="miter"/>
<path d="M443.00,342.70 L446.80,350.10 L439.20,350.10Z" fill="none" stroke="#111" stroke-width="1.9" stroke-linejoin="miter"/>
<path d="M368.10,212.90 H381.80" stroke="#111" stroke-width="1.3"/>
<circle cx="374.95" cy="212.90" r="3.05" fill="none" stroke="#111" stroke-width="1.8"/>
<text x="389.40" y="216.20" font-family='"Liberation Serif", serif' font-size="10" textLength="34.1" lengthAdjust="spacingAndGlyphs" fill="#111" stroke="#111" stroke-width="0.2">Pectinase</text>
<path d="M368.10,228.10 H381.80" stroke="#111" stroke-width="1.3"/>
<rect x="371.65" y="224.80" width="6.60" height="6.60" fill="none" stroke="#111" stroke-width="1.5"/>
<text x="389.40" y="231.40" font-family='"Liberation Serif", serif' font-size="10" textLength="40.4" lengthAdjust="spacingAndGlyphs" fill="#111" stroke="#111" stroke-width="0.2">Mannanase</text>
<path d="M369.40,244.60 H383.10" stroke="#111" stroke-width="1.3"/>
<path d="M376.25,240.40 L380.05,247.80 L372.45,247.80Z" fill="none" stroke="#111" stroke-width="1.9" stroke-linejoin="miter"/>
<text x="390.70" y="247.90" font-family='"Liberation Serif", serif' font-size="10" textLength="32.7" lengthAdjust="spacingAndGlyphs" fill="#111" stroke="#111" stroke-width="0.2">Xylanase</text>
<text x="352.90" y="387.8" text-anchor="middle" font-family='"Liberation Serif", serif' font-weight="bold" font-size="10.2" textLength="33.5" lengthAdjust="spacingAndGlyphs" fill="#111">Time (h)</text>
<path d="M489.10,202.30 V348.30 M485.20,348.30 H684.00" stroke="#111" stroke-width="1.4" fill="none"/>
<path d="M487.20,338.61 H489.10 M487.20,328.91 H489.10 M487.20,319.22 H489.10 M487.20,309.53 H489.10 M485.20,299.83 H489.10 M487.20,290.14 H489.10 M487.20,280.45 H489.10 M487.20,270.75 H489.10 M487.20,261.06 H489.10 M485.20,251.37 H489.10 M487.20,241.67 H489.10 M487.20,231.98 H489.10 M487.20,222.29 H489.10 M487.20,212.59 H489.10 M485.20,202.90 H489.10 M501.90,348.30 V352.90 M526.13,348.30 V352.90 M550.36,348.30 V352.90 M574.59,348.30 V352.90 M598.82,348.30 V352.90 M623.05,348.30 V352.90 M647.28,348.30 V352.90 M671.51,348.30 V352.90 " stroke="#111" stroke-width="1.4" fill="none"/>
<text x="483.50" y="207.10" text-anchor="end" font-family='"Liberation Sans", sans-serif' font-size="11" textLength="13.9" lengthAdjust="spacingAndGlyphs" fill="#111" stroke="#111" stroke-width="0.7">150</text>
<text x="483.50" y="255.57" text-anchor="end" font-family='"Liberation Sans", sans-serif' font-size="11" textLength="14.1" lengthAdjust="spacingAndGlyphs" fill="#111" stroke="#111" stroke-width="0.7">100</text>
<text x="483.50" y="304.03" text-anchor="end" font-family='"Liberation Sans", sans-serif' font-size="11" textLength="9.4" lengthAdjust="spacingAndGlyphs" fill="#111" stroke="#111" stroke-width="0.7">50</text>
<text x="483.50" y="352.50" text-anchor="end" font-family='"Liberation Sans", sans-serif' font-size="11" textLength="4.7" lengthAdjust="spacingAndGlyphs" fill="#111" stroke="#111" stroke-width="0.7">0</text>
<text x="504.60" y="365.20" text-anchor="end" transform="rotate(-45 504.60 365.20)" font-family='"Liberation Sans", sans-serif' font-size="11.6" textLength="5.0" lengthAdjust="spacingAndGlyphs" fill="#111" stroke="#111" stroke-width="0.75">0</text>
<text x="528.83" y="365.20" text-anchor="end" transform="rotate(-45 528.83 365.20)" font-family='"Liberation Sans", sans-serif' font-size="11.6" textLength="9.8" lengthAdjust="spacingAndGlyphs" fill="#111" stroke="#111" stroke-width="0.75">24</text>
<text x="553.06" y="365.20" text-anchor="end" transform="rotate(-45 553.06 365.20)" font-family='"Liberation Sans", sans-serif' font-size="11.6" textLength="9.8" lengthAdjust="spacingAndGlyphs" fill="#111" stroke="#111" stroke-width="0.75">48</text>
<text x="577.29" y="365.20" text-anchor="end" transform="rotate(-45 577.29 365.20)" font-family='"Liberation Sans", sans-serif' font-size="11.6" textLength="9.8" lengthAdjust="spacingAndGlyphs" fill="#111" stroke="#111" stroke-width="0.75">72</text>
<text x="601.52" y="365.20" text-anchor="end" transform="rotate(-45 601.52 365.20)" font-family='"Liberation Sans", sans-serif' font-size="11.6" textLength="9.8" lengthAdjust="spacingAndGlyphs" fill="#111" stroke="#111" stroke-width="0.75">96</text>
<text x="625.75" y="365.20" text-anchor="end" transform="rotate(-45 625.75 365.20)" font-family='"Liberation Sans", sans-serif' font-size="11.6" textLength="14.6" lengthAdjust="spacingAndGlyphs" fill="#111" stroke="#111" stroke-width="0.75">120</text>
<text x="649.98" y="365.20" text-anchor="end" transform="rotate(-45 649.98 365.20)" font-family='"Liberation Sans", sans-serif' font-size="11.6" textLength="14.6" lengthAdjust="spacingAndGlyphs" fill="#111" stroke="#111" stroke-width="0.75">144</text>
<text x="674.21" y="365.20" text-anchor="end" transform="rotate(-45 674.21 365.20)" font-family='"Liberation Sans", sans-serif' font-size="11.6" textLength="14.6" lengthAdjust="spacingAndGlyphs" fill="#111" stroke="#111" stroke-width="0.75">168</text>
<text x="503.90" y="206.10" font-family='"Liberation Sans", sans-serif' font-weight="bold" font-size="14" fill="#111">f</text>
<polyline points="501.90,251.37 526.13,273.66 550.36,306.62 574.59,325.04 598.82,337.64 623.05,344.91 647.28,348.30 671.51,348.30" fill="none" stroke="#111" stroke-width="1.45"/>
<polyline points="501.90,251.37 526.13,269.78 550.36,291.11 574.59,303.71 598.82,320.19 623.05,331.82 647.28,338.61 671.51,342.48" fill="none" stroke="#111" stroke-width="1.45"/>
<polyline points="501.90,251.37 526.13,263.97 550.36,278.51 574.59,297.89 598.82,316.31 623.05,326.97 647.28,334.73 671.51,341.71" fill="none" stroke="#111" stroke-width="1.45"/>
<path d="M497.50,251.37 H506.30 M501.90,246.97 V255.77" stroke="#111" stroke-width="1.7"/>
<path d="M521.73,273.66 H530.53 M526.13,269.26 V278.06" stroke="#111" stroke-width="1.7"/>
<path d="M545.96,306.62 H554.76 M550.36,302.22 V311.02" stroke="#111" stroke-width="1.7"/>
<path d="M570.19,325.04 H578.99 M574.59,320.64 V329.44" stroke="#111" stroke-width="1.7"/>
<path d="M594.42,337.64 H603.22 M598.82,333.24 V342.04" stroke="#111" stroke-width="1.7"/>
<path d="M618.65,344.91 H627.45 M623.05,340.51 V349.31" stroke="#111" stroke-width="1.7"/>
<path d="M642.88,348.30 H651.68 M647.28,343.90 V352.70" stroke="#111" stroke-width="1.7"/>
<path d="M667.11,348.30 H675.91 M671.51,343.90 V352.70" stroke="#111" stroke-width="1.7"/>
<path d="M501.90,251.37 L505.97,253.05 M501.90,251.37 L503.58,255.43 M501.90,251.37 L500.22,255.43 M501.90,251.37 L497.83,253.05 M501.90,251.37 L497.83,249.68 M501.90,251.37 L500.22,247.30 M501.90,251.37 L503.58,247.30 M501.90,251.37 L505.97,249.68 " stroke="#111" stroke-width="1.3"/><circle cx="501.90" cy="251.37" r="2.60" fill="#111"/>
<path d="M526.13,269.78 L530.20,271.47 M526.13,269.78 L527.81,273.85 M526.13,269.78 L524.45,273.85 M526.13,269.78 L522.06,271.47 M526.13,269.78 L522.06,268.10 M526.13,269.78 L524.45,265.72 M526.13,269.78 L527.81,265.72 M526.13,269.78 L530.20,268.10 " stroke="#111" stroke-width="1.3"/><circle cx="526.13" cy="269.78" r="2.60" fill="#111"/>
<path d="M550.36,291.11 L554.43,292.79 M550.36,291.11 L552.04,295.17 M550.36,291.11 L548.68,295.17 M550.36,291.11 L546.29,292.79 M550.36,291.11 L546.29,289.43 M550.36,291.11 L548.68,287.04 M550.36,291.11 L552.04,287.04 M550.36,291.11 L554.43,289.43 " stroke="#111" stroke-width="1.3"/><circle cx="550.36" cy="291.11" r="2.60" fill="#111"/>
<path d="M574.59,303.71 L578.66,305.39 M574.59,303.71 L576.27,307.78 M574.59,303.71 L572.91,307.78 M574.59,303.71 L570.52,305.39 M574.59,303.71 L570.52,302.03 M574.59,303.71 L572.91,299.65 M574.59,303.71 L576.27,299.65 M574.59,303.71 L578.66,302.03 " stroke="#111" stroke-width="1.3"/><circle cx="574.59" cy="303.71" r="2.60" fill="#111"/>
<path d="M598.82,320.19 L602.89,321.87 M598.82,320.19 L600.50,324.25 M598.82,320.19 L597.14,324.25 M598.82,320.19 L594.75,321.87 M598.82,320.19 L594.75,318.51 M598.82,320.19 L597.14,316.12 M598.82,320.19 L600.50,316.12 M598.82,320.19 L602.89,318.51 " stroke="#111" stroke-width="1.3"/><circle cx="598.82" cy="320.19" r="2.60" fill="#111"/>
<path d="M623.05,331.82 L627.12,333.51 M623.05,331.82 L624.73,335.89 M623.05,331.82 L621.37,335.89 M623.05,331.82 L618.98,333.51 M623.05,331.82 L618.98,330.14 M623.05,331.82 L621.37,327.76 M623.05,331.82 L624.73,327.76 M623.05,331.82 L627.12,330.14 " stroke="#111" stroke-width="1.3"/><circle cx="623.05" cy="331.82" r="2.60" fill="#111"/>
<path d="M647.28,338.61 L651.35,340.29 M647.28,338.61 L648.96,342.67 M647.28,338.61 L645.60,342.67 M647.28,338.61 L643.21,340.29 M647.28,338.61 L643.21,336.92 M647.28,338.61 L645.60,334.54 M647.28,338.61 L648.96,334.54 M647.28,338.61 L651.35,336.92 " stroke="#111" stroke-width="1.3"/><circle cx="647.28" cy="338.61" r="2.60" fill="#111"/>
<path d="M671.51,342.48 L675.58,344.17 M671.51,342.48 L673.19,346.55 M671.51,342.48 L669.83,346.55 M671.51,342.48 L667.44,344.17 M671.51,342.48 L667.44,340.80 M671.51,342.48 L669.83,338.42 M671.51,342.48 L673.19,338.42 M671.51,342.48 L675.58,340.80 " stroke="#111" stroke-width="1.3"/><circle cx="671.51" cy="342.48" r="2.60" fill="#111"/>
<path d="M501.90,246.77 L505.90,251.37 L501.90,255.97 L497.90,251.37Z" fill="none" stroke="#111" stroke-width="1.7"/>
<path d="M526.13,259.37 L530.13,263.97 L526.13,268.57 L522.13,263.97Z" fill="none" stroke="#111" stroke-width="1.7"/>
<path d="M550.36,273.91 L554.36,278.51 L550.36,283.11 L546.36,278.51Z" fill="none" stroke="#111" stroke-width="1.7"/>
<path d="M574.59,293.29 L578.59,297.89 L574.59,302.49 L570.59,297.89Z" fill="none" stroke="#111" stroke-width="1.7"/>
<path d="M598.82,311.71 L602.82,316.31 L598.82,320.91 L594.82,316.31Z" fill="none" stroke="#111" stroke-width="1.7"/>
<path d="M623.05,322.37 L627.05,326.97 L623.05,331.57 L619.05,326.97Z" fill="none" stroke="#111" stroke-width="1.7"/>
<path d="M647.28,330.13 L651.28,334.73 L647.28,339.33 L643.28,334.73Z" fill="none" stroke="#111" stroke-width="1.7"/>
<path d="M671.51,337.11 L675.51,341.71 L671.51,346.31 L667.51,341.71Z" fill="none" stroke="#111" stroke-width="1.7"/>
<path d="M589.30,206.20 H603.00" stroke="#111" stroke-width="1.3"/>
<path d="M591.75,206.20 H600.55 M596.15,201.80 V210.60" stroke="#111" stroke-width="1.7"/>
<text x="611.20" y="209.50" font-family='"Liberation Serif", serif' font-size="10" textLength="49.5" lengthAdjust="spacingAndGlyphs" fill="#111" stroke="#111" stroke-width="0.2">Alginate lyase</text>
<path d="M589.30,221.40 H603.00" stroke="#111" stroke-width="1.3"/>
<path d="M596.15,221.40 L600.22,223.08 M596.15,221.40 L597.83,225.47 M596.15,221.40 L594.47,225.47 M596.15,221.40 L592.08,223.08 M596.15,221.40 L592.08,219.72 M596.15,221.40 L594.47,217.33 M596.15,221.40 L597.83,217.33 M596.15,221.40 L600.22,219.72 " stroke="#111" stroke-width="1.3"/><circle cx="596.15" cy="221.40" r="2.60" fill="#111"/>
<text x="611.20" y="224.70" font-family='"Liberation Serif", serif' font-size="10" textLength="50.5" lengthAdjust="spacingAndGlyphs" fill="#111" stroke="#111" stroke-width="0.2">Glucoamylase</text>
<path d="M590.20,237.40 H603.90" stroke="#111" stroke-width="1.3"/>
<path d="M597.05,232.80 L601.05,237.40 L597.05,242.00 L593.05,237.40Z" fill="none" stroke="#111" stroke-width="1.7"/>
<text x="612.10" y="240.70" font-size="10" textLength="41.7" lengthAdjust="spacingAndGlyphs" fill="#111" stroke="#111" stroke-width="0.2"><tspan font-family='"Liberation Serif", serif'>α</tspan><tspan font-family='"Liberation Sans", sans-serif'>-amylase</tspan></text>
<text x="581.30" y="387.8" text-anchor="middle" font-family='"Liberation Serif", serif' font-weight="bold" font-size="10.2" textLength="33.5" lengthAdjust="spacingAndGlyphs" fill="#111">Time (h)</text>
<rect x="683.5" y="0" width="1.5" height="392" fill="#c4c4c4"/>
</svg>
</body></html>
